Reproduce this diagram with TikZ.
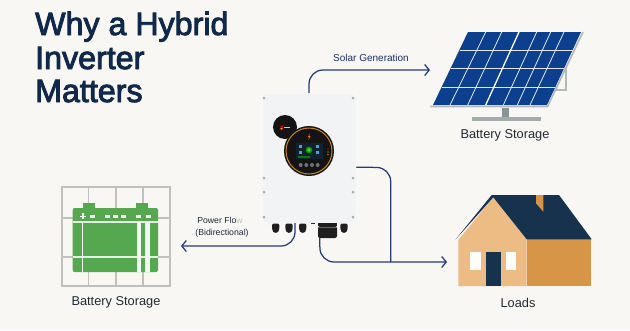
\documentclass[tikz,border=0pt]{standalone}
\usepackage{fontspec}
\setmainfont{Liberation Sans}
\newfontfamily\titlefont[FakeBold=2.8]{Liberation Sans}
\usetikzlibrary{arrows.meta,calc}
\definecolor{paper}{HTML}{F9F7F3}
\definecolor{ink}{HTML}{10294A}
\definecolor{labelink}{HTML}{1F2933}
\definecolor{flow}{HTML}{24397F}
\definecolor{casing}{HTML}{F1F3F4}
\definecolor{screw}{HTML}{A9ADB0}
\definecolor{cell}{HTML}{0D3F8F}
\definecolor{frameline}{HTML}{B4BABC}
\definecolor{steel}{HTML}{A3ABAB}
\definecolor{steeldark}{HTML}{8A9496}
\definecolor{batgreen}{HTML}{55A84F}
\definecolor{gridline}{HTML}{BFC1BE}
\definecolor{roofnavy}{HTML}{17324D}
\definecolor{walllight}{HTML}{EDBC85}
\definecolor{walldark}{HTML}{D79548}
\definecolor{ringorange}{HTML}{C8841F}
\definecolor{display}{HTML}{14202E}
\definecolor{cyanicon}{HTML}{3BA7E0}
\tikzset{
  flowline/.style={draw=flow,line width=1.25pt,rounded corners=14pt,-{Straight Barb[length=4.5pt,width=11pt,line width=1.25pt]}},
  flowplain/.style={draw=flow,line width=1.25pt,rounded corners=14pt},
  caption/.style={text=labelink,font=\fontsize{12.8}{15}\selectfont,inner sep=0pt},
  smallcap/.style={text=labelink,font=\fontsize{8.7}{10}\selectfont,inner sep=0pt},
  titleline/.style={text=ink,font=\titlefont\fontsize{32.2}{38}\selectfont,inner sep=0pt,anchor=base west},
  screwdot/.style={fill=screw,draw=none},
  cablegland/.style={fill=black!88,draw=none,rounded corners=2pt},
  pencil/.style={draw=white!88!cell,line width=.8pt},
}
\begin{document}
\begin{tikzpicture}[x=1pt,y=-1pt]
\useasboundingbox (0,0) rectangle (630,330);
\fill[paper] (0,0) rectangle (630,330);

% Heading
\node[titleline] (t1) at (35,35) {Why a Hybrid};
\node[titleline] (t2) at (35,69) {Inverter};
\node[titleline] (t3) at (35,102) {Matters};

% Free ends of the connectors
\coordinate (solarIn) at (430,70);
\coordinate (loadIn) at (447,262);
\coordinate (batteryIn) at (181,246);

% Connector labels
\node[text=flow!80!black,font=\fontsize{10}{12}\selectfont,inner sep=0pt] (solarLabel) at (371,57.5) {Solar Generation};
\node[smallcap] (flowA) at (220,220) {Power Flo\textcolor{black!25}{w}};
\node[smallcap] (flowB) at (222,233) {(Bidirectional)};

% Inverter casing
\fill[black!4] (263,95) rectangle (357,224.5);
\node[fill=casing,draw=white,line width=.5pt,rounded corners=4pt,minimum width=94pt,minimum height=130pt,inner sep=0pt] (inverter) at (309,158) {};
\foreach \px/\py in {264/98,353/98,264/178,353/178,264/192,353/192,264/217,353/217}
  \fill[screwdot] (\px,\py) circle (1.5);

% Cable glands along the bottom edge
\foreach \px in {275.7,289,302.7,344}{
  \fill[cablegland] (\px-3.7,223.5) rectangle (\px+3.7,230);
  \fill[black!88] (\px,229.5) circle (3.4);
}
\fill[black!85] (311,222.5) rectangle (315,224);
\fill[black!88] (318,223) rectangle (337,226);
\node[cablegland,minimum width=19pt,minimum height=12pt,inner sep=0pt] (gland) at (327.5,232) {};
\fill[black!60] (318,226.5) rectangle (337,227.2);

% Connectors
\coordinate (invTopOut) at (inverter.north);
\coordinate (invRightOut) at ($(inverter.north east)+(0,74.5)$);
\coordinate (invLeftOut) at (295,223);
\coordinate (junction) at (390.7,262);
\draw[flowline] (invTopOut) -- (309,70) -- (solarIn);
\draw[flowplain] (invRightOut) -- (390.7,167.5) -- (junction);
\draw[flowline] (gland.south west) ++(2,0) coordinate (glandOut) -- (320,262) -- (loadIn);
\draw[flowline] (invLeftOut) -- (295,246) -- (batteryIn);

% Inverter badge and display
\fill[black!92] (285,127) circle (12);
\fill[black!92] (309,151) circle (25);
\draw[ringorange,line width=1pt] (309,151) circle (23);
\fill[red!80!black] (280,127) -- (283,124.5) -- (283,129.5) -- cycle;
\fill[orange] (280,128) -- (283,128) -- (281.5,130) -- cycle;
\fill[white!80!black] (284,126.6) rectangle (290,127.6);
\fill[orange!90!black] (309.8,133.5) -- (307.8,137) -- (309.2,137) -- (308.4,140) -- (310.6,136) -- (309.2,136) -- cycle;
\fill[display] (296,143) rectangle (323,159);
\foreach \px/\py in {300.7/146,317/146,300.7/152.7,317/152.7}
  \fill[cyanicon] (\px-1.5,\py-1.5) rectangle (\px+1.5,\py+1.5);
\fill[green!60!black] (309,150) circle (3.4);
\fill[green!75!black!70!white] (309,150) circle (1.8);
\fill[green!50!black] (298,156) rectangle (310,157.5);
\foreach \px in {300.7,306.3,312,317.7}
  \fill[black!55] (\px,165) circle (2);
\fill[red!70!black] (328,149) circle (.8);
\fill[green!70!black] (328,152) circle (.8);
\fill[orange!80!black] (328,154.5) circle (.8);

% Solar array
\draw[frameline,line width=2pt] (566,68) -- (566,89.5) -- (553,89.5);
\fill[cell] (468,32) -- (581,32) -- (547,105) -- (433,105) -- cycle;
\foreach \ya/\xa/\xb in {50/459.6/572.6,68/451.2/564.2,87/442.4/555.4}
  \draw[pencil] (\xa,\ya) -- (\xb,\ya);
\foreach \xt/\xb in {485.7/450,501.7/467.7,536.7/503.3,550.7/517.3,564/530}
  \draw[pencil] (\xt,32) -- (\xb,105);
\draw[pencil,draw=white,line width=1.3pt] (519,32) -- (485.7,105);
\draw[frameline,line width=1.7pt] (430,106.5) -- (547.5,106.5) -- (583,32);
\fill[steeldark] (502,107.5) rectangle (509,117);
\fill[steel] (472,117) rectangle (541,121);
\node[caption] (solarCaption) at (505,135) {Battery Storage};

% Battery icon with its grid
\draw[gridline,line width=1.2pt] (62,187) rectangle (170,286);
\foreach \gx in {88.7,116,143} \draw[gridline,line width=1.2pt] (\gx,187) -- (\gx,286);
\foreach \gy in {218,257} \draw[gridline,line width=1.2pt] (62,\gy) -- (170,\gy);
\fill[batgreen] (83,203) rectangle (95,210);
\fill[batgreen] (136,203) rectangle (148,210);
\fill[batgreen,rounded corners=2pt] (72.7,208) rectangle (158,272);
\foreach \gy in {222,257} \draw[white!85!batgreen,line width=1.1pt] (72.7,\gy) -- (158,\gy);
\draw[white!90!batgreen,line width=1.2pt] (82.7,222) -- (82.7,272);
\fill[white!92!batgreen] (136.5,222) rectangle (140.5,272);
\fill[white!92!batgreen] (145.2,222) rectangle (149.5,272);
\draw[white,line width=1.3pt] (80,216.3) -- (86,216.3) (83,213.3) -- (83,219.3);
\foreach \bx in {92,107,115,123,138,148}
  \fill[white] (\bx-2.5,214.8) rectangle (\bx+2.5,218);
\node[caption] (batteryCaption) at (116,302) {Battery Storage};

% House
\fill[walldark] (526.7,239) rectangle (591,286);
\fill[walllight] (458.3,240) -- (493.3,197.3) -- (526.7,239.3) -- (526.7,286) -- (458.3,286) -- cycle;
\fill[roofnavy] (491.7,195) -- (559,195) -- (591.7,239.3) -- (526.7,239.3) -- (493.3,197.3) -- (455.7,239.3) -- cycle;
\fill[walldark] (536,195) -- (543.3,195) -- (543.3,211.7) -- (536,203.3) -- cycle;
\fill[roofnavy] (486,251.7) rectangle (501.3,286);
\fill[white!95!walllight] (470.3,252.3) rectangle (481,270);
\fill[white!95!walllight] (505.7,252.3) rectangle (516,270);
\node[caption] (loadsCaption) at (518,303) {Loads};
\end{tikzpicture}
\end{document}
